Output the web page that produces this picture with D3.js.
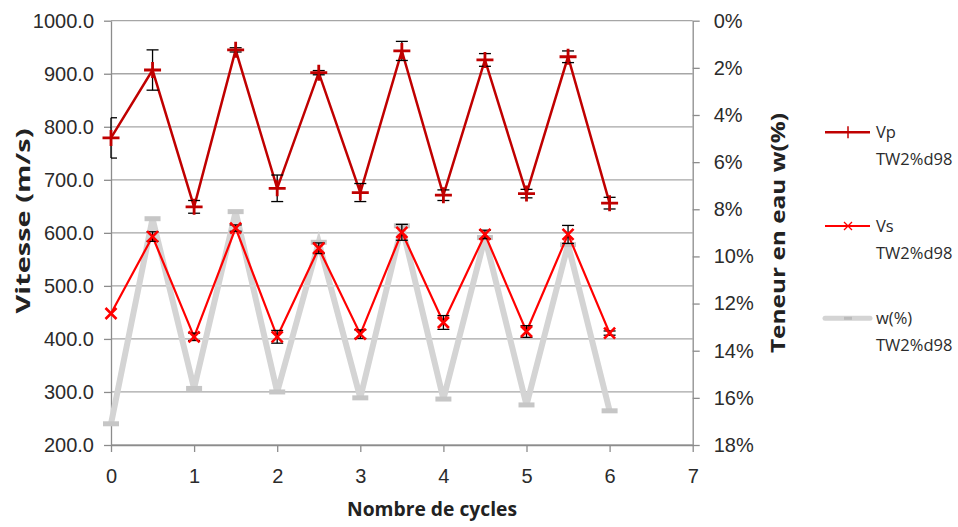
<!DOCTYPE html>
<html>
<head>
<meta charset="utf-8">
<script src="https://cdn.jsdelivr.net/npm/d3@7"></script>
<style>
  html, body { margin: 0; padding: 0; background: #fff; }
  svg { display: block; font-family: "Open Sans", "Noto Sans", sans-serif; }
</style>
</head>
<body>
<svg id="chart" width="958" height="527"></svg>
<script>
// ---- data ----
const cycles = [0, 0.5, 1, 1.5, 2, 2.5, 3, 3.5, 4, 4.5, 5, 5.5, 6];
const vpValues = [779, 907, 649, 945, 684, 902, 676, 943, 671, 926, 674, 932, 656];
const vpErrors = [38, 38, 12, 4, 25, 4, 17, 18, 10, 12, 8, 11, 11];
const vsValues = [448, 593, 404, 609, 404, 571, 409, 601, 431, 597, 414, 597, 411];
const vsErrors = [1, 9, 7, 6, 12, 10, 8, 15, 13, 8, 11, 17, 4];
const wValues = [17.1, 8.4, 15.6, 8.1, 15.75, 9.4, 16.0, 8.7, 16.05, 9.2, 16.3, 9.5, 16.55];
const xTicks = [0, 1, 2, 3, 4, 5, 6, 7];
const leftTicks = [200, 300, 400, 500, 600, 700, 800, 900, 1000];
const rightTicks = [0, 2, 4, 6, 8, 10, 12, 14, 16, 18];
const seriesNames = ["Vp", "Vs", "w(%)"];
const seriesSuffix = "TW2%d98";
const xTitle = "Nombre de cycles";
const yLeftTitle = "Vitesse (m/s)";
const yRightTitle = "Teneur en eau w(%)";

// ---- layout ----
const svg = d3.select("#chart");
const L = 111, R = 692.7, T = 20.7, B = 445;
const x = d3.scaleLinear().domain([0, 7]).range([L, R]);
const yL = d3.scaleLinear().domain([200, 1000]).range([B, T]);
const yR = d3.scaleLinear().domain([0, 18]).range([T, B]);

const gridColor = "#a6a6a6";
const axisColor = "#8c8c8c";
const textColor = "#2b2b2b";
const vpColor = "#c00000";
const vsColor = "#ff0000";
const wColor = "#d4d4d4";
const wMarker = "#c6c6c6";

// gridlines
svg.append("g").selectAll("line").data(leftTicks).join("line")
  .attr("x1", L).attr("x2", R)
  .attr("y1", d => yL(d)).attr("y2", d => yL(d))
  .attr("stroke", gridColor).attr("stroke-width", 1.3);

// axes
function styleAxis(g) {
  g.select(".domain").attr("stroke", axisColor).attr("stroke-width", 1.3);
  g.selectAll(".tick line").attr("stroke", axisColor).attr("stroke-width", 1.3);
  g.selectAll(".tick text").attr("fill", textColor).style("font-size", "20px");
}
svg.append("g").attr("transform", `translate(${L},0)`)
  .call(d3.axisLeft(yL).tickValues(leftTicks).tickFormat(d => d.toFixed(1)).tickSize(7).tickSizeOuter(0).tickPadding(10))
  .call(styleAxis);
svg.append("g").attr("transform", `translate(${R},0)`)
  .call(d3.axisRight(yR).tickValues(rightTicks).tickFormat(d => d + "%").tickSize(7).tickSizeOuter(0).tickPadding(14))
  .call(styleAxis);
svg.append("g").attr("transform", `translate(0,${B})`)
  .call(d3.axisBottom(x).tickValues(xTicks).tickFormat(d3.format("d")).tickSize(7).tickSizeOuter(0).tickPadding(17))
  .call(styleAxis);

// titles
svg.append("text").attr("x", 432).attr("y", 516).attr("text-anchor", "middle")
  .attr("font-weight", "bold").attr("font-size", 20).attr("fill", "#222")
  .attr("textLength", 170).attr("lengthAdjust", "spacingAndGlyphs").text(xTitle);
svg.append("text").attr("transform", "translate(30,221) rotate(-90)").attr("text-anchor", "middle")
  .attr("font-weight", "bold").attr("font-size", 20).attr("fill", "#222")
  .attr("textLength", 185).attr("lengthAdjust", "spacingAndGlyphs").text(yLeftTitle);
svg.append("text").attr("transform", "translate(785,233) rotate(-90)").attr("text-anchor", "middle")
  .attr("font-weight", "bold").attr("font-size", 20).attr("fill", "#222")
  .attr("textLength", 240).attr("lengthAdjust", "spacingAndGlyphs").text(yRightTitle);

const idx = d3.range(cycles.length);

// w series (behind)
const wLine = d3.line().x(i => x(cycles[i])).y(i => yR(wValues[i]));
svg.append("path").datum(idx).attr("d", wLine).attr("fill", "none")
  .attr("stroke", wColor).attr("stroke-width", 6).attr("stroke-linejoin", "miter");
svg.append("g").selectAll("line").data(idx).join("line")
  .attr("x1", i => x(cycles[i]) - 8).attr("x2", i => x(cycles[i]) + 8)
  .attr("y1", i => yR(wValues[i])).attr("y2", i => yR(wValues[i]))
  .attr("stroke", wMarker).attr("stroke-width", 5);

// error bars helper
function errorBars(vals, errs, scale) {
  const g = svg.append("g").attr("stroke", "#000").attr("stroke-width", 1.3);
  idx.forEach(i => {
    if (errs[i] < 2) return;
    const cx = x(cycles[i]);
    const y1 = scale(vals[i] + errs[i]), y2 = scale(vals[i] - errs[i]);
    const xl = Math.max(cx - 6, L);
    g.append("line").attr("x1", cx).attr("x2", cx).attr("y1", y1).attr("y2", y2);
    g.append("line").attr("x1", xl).attr("x2", cx + 6).attr("y1", y1).attr("y2", y1);
    g.append("line").attr("x1", xl).attr("x2", cx + 6).attr("y1", y2).attr("y2", y2);
  });
}

// Vs series
const vsLine = d3.line().x(i => x(cycles[i])).y(i => yL(vsValues[i]));
svg.append("path").datum(idx).attr("d", vsLine).attr("fill", "none")
  .attr("stroke", vsColor).attr("stroke-width", 2.2);
errorBars(vsValues, vsErrors, yL);
svg.append("g").selectAll("path").data(idx).join("path")
  .attr("d", i => {
    const cx = x(cycles[i]), cy = yL(vsValues[i]), s = 5.5;
    return `M${cx - s},${cy - s}L${cx + s},${cy + s}M${cx - s},${cy + s}L${cx + s},${cy - s}`;
  })
  .attr("stroke", vsColor).attr("stroke-width", 2.6).attr("fill", "none");

// Vp series
const vpLine = d3.line().x(i => x(cycles[i])).y(i => yL(vpValues[i]));
svg.append("path").datum(idx).attr("d", vpLine).attr("fill", "none")
  .attr("stroke", vpColor).attr("stroke-width", 2.5);
errorBars(vpValues, vpErrors, yL);
svg.append("g").selectAll("path").data(idx).join("path")
  .attr("d", i => {
    const cx = x(cycles[i]), cy = yL(vpValues[i]);
    return `M${cx - 8.5},${cy}L${cx + 8.5},${cy}M${cx},${cy - 8}L${cx},${cy + 8}`;
  })
  .attr("stroke", vpColor).attr("stroke-width", 2.8).attr("fill", "none");

// legend
const legY = [132.3, 226, 318.3];
const lx1 = 825, lx2 = 870;
const leg = svg.append("g");
seriesNames.forEach((name, k) => {
  const y = legY[k];
  if (k === 0) {
    leg.append("line").attr("x1", lx1).attr("x2", lx2).attr("y1", y).attr("y2", y).attr("stroke", vpColor).attr("stroke-width", 2.5);
    leg.append("line").attr("x1", 848).attr("x2", 848).attr("y1", y - 6).attr("y2", y + 6).attr("stroke", vpColor).attr("stroke-width", 1.5);
  } else if (k === 1) {
    leg.append("line").attr("x1", lx1).attr("x2", lx2).attr("y1", y).attr("y2", y).attr("stroke", vsColor).attr("stroke-width", 2.2);
    leg.append("path").attr("d", `M${844},${y - 4}L${852},${y + 4}M${844},${y + 4}L${852},${y - 4}`).attr("stroke", vsColor).attr("stroke-width", 1.3);
  } else {
    leg.append("line").attr("x1", lx1).attr("x2", lx2).attr("y1", y).attr("y2", y).attr("stroke", wColor).attr("stroke-width", 5).attr("stroke-linecap", "round");
    leg.append("line").attr("x1", 844).attr("x2", 852).attr("y1", y).attr("y2", y).attr("stroke", "#bbb").attr("stroke-width", 3);
  }
  leg.append("text").attr("x", 876).attr("y", y).attr("dy", "0.35em")
    .attr("font-size", 16.5).attr("fill", textColor).text(name);
  leg.append("text").attr("x", 876).attr("y", y + 27).attr("dy", "0.35em")
    .attr("font-size", 16.5).attr("fill", textColor).text(seriesSuffix);
});
</script>
</body>
</html>
